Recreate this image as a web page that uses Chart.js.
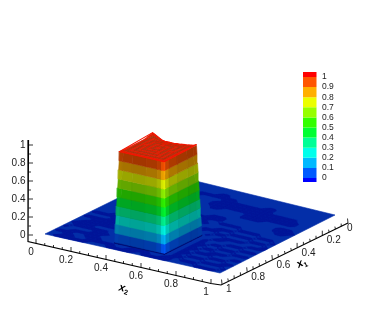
<!DOCTYPE html>
<html>
<head>
<meta charset="utf-8">
<style>
html,body{margin:0;padding:0;background:#fff;}
canvas{display:block;filter:blur(0.45px);}
</style>
<script src="https://cdn.jsdelivr.net/npm/chart.js@4"></script>
</head>
<body>
<canvas id="chart" width="378" height="336"></canvas>
<script>
// values
const x1Ticks = [0, 0.2, 0.4, 0.6, 0.8, 1];
const x2Ticks = [0, 0.2, 0.4, 0.6, 0.8, 1];
const zTicks = [0, 0.2, 0.4, 0.6, 0.8, 1];
const legendLabels = ['0','0.1','0.2','0.3','0.4','0.5','0.6','0.7','0.8','0.9','1'];
const contourLevels = [-0.012, 0, 0.1, 0.2, 0.3, 0.4, 0.5, 0.6, 0.7, 0.8, 0.9, 1];

// extents of the plateau, at its foot and at its top
const footX2 = [0.34, 0.625];
const footX1 = [0.595, 0.915];
const topX2 = [0.355, 0.61];
const topX1 = [0.62, 0.895];
// height offset of the back edge of the plateau, along x2
const backEdgeZ = [0.03,0.015,0,-0.015,-0.03,-0.035,-0.035,-0.035,-0.035,-0.035,-0.03,-0.03,-0.025,-0.02,-0.02,-0.015,-0.01,-0.005,0.01];

// floor values, rows run along x1, columns along x2 ('#' slightly below zero)
const floorRows = [
'..............................',
'..............................',
'...........##.................',
'........#######.....##........',
'......###....#########........',
'....###.....###############...',
'...##.......################..',
'.............##....#########..',
'..##...............####.......',
'..###.....................###.',
'....##.........###........####',
'......###....#####.........##.',
'...#####....####..####........',
'..##.....###...##.....####....',
'.....#####....#....###....###.',
'..####.....##....###..####...#',
'........###.....##..##....###.',
'...####........##..#..####...#',
'#####................##....###',
'....#######.........#...###...',
'########............#.##...###',
'..#####.............##..###...',
'.#######............#.##...###',
'####................##..###...',
'.######.............#.###...##',
'#....###............##...###..',
'..#####.............#.###...##',
'###..###............##...####.',
'..##..#####..####..##.###....#',
'.######...#####.#####....####.'
];
// plateau top values, '#' slightly below one
const topRows = [
'..................',
'.################.',
'.#..............#.',
'.#.####..######.#.',
'.#.#..........#.#.',
'.#.#.###.####.#.#.',
'.#.#.#......#.#.#.',
'.#.#.#.####.#.#.#.',
'.#...#.#..#.#.#.#.',
'.#.#.#.#..#.#...#.',
'.#.#.#.####.#.#.#.',
'.#.#.#......#.#.#.',
'.#.#.######.#.#.#.',
'.#.#..........#.#.',
'.#.##########.#.#.',
'.#..............#.',
'.################.',
'..................'
];

const bandColors = [[0,0,255],[0,90,255],[0,185,255],[0,255,235],[0,255,150],[0,255,50],[50,255,0],[150,255,0],[235,255,0],[255,175,0],[255,85,0],[255,0,0]];
const floorColor = 'rgb(3,46,168)';
const floorDark = 'rgb(0,20,152)';
const topColor = 'rgb(224,28,0)';
const topDark = 'rgb(172,45,10)';

// shading across each side of the plateau
const leftStops = [0,0.08,0.3,0.6,0.85,0.94,1];
const leftShade = [0.68,0.65,0.64,0.66,0.72,0.9];
const rightStops = [0,0.05,0.15,0.4,0.7,0.9,1];
const rightShade = [0.97,0.78,0.68,0.64,0.62,0.64];

// view: where the floor corners land and how tall one unit of z is
const cornerBack = [167,174], cornerRight = [335,215], cornerLeft = [45,234], cornerNear = [220,273];
const zUnit = 90;

function project(x1, x2, z){
  const a = (1-x2)*(1-x1), b = x2*(1-x1), c = (1-x2)*x1, d = x2*x1;
  return {
    x: a*cornerBack[0]+b*cornerRight[0]+c*cornerLeft[0]+d*cornerNear[0],
    y: a*cornerBack[1]+b*cornerRight[1]+c*cornerLeft[1]+d*cornerNear[1]-z*zUnit
  };
}
function lerp(p, q, t){ return p+(q-p)*t; }
function shade(rgb, f){ return 'rgb('+rgb.map(v=>Math.round(Math.min(255,v*f))).join(',')+')'; }
function poly(points, color, edge){
  return {type:'line', data:points.concat([points[0]]), fill:'shape', backgroundColor:color,
    borderColor:color, borderWidth:edge===undefined?0.6:edge, pointRadius:0, tension:0};
}
function stroke(points, color, width){
  return {type:'line', data:points, fill:false, borderColor:color, borderWidth:width, pointRadius:0, tension:0};
}

const shapes = [];

// floor: light sheet first, then the darker patches with their stair steps cut off
const floorN = floorRows.length, floorM = floorRows[0].length;
function isDark(r, c){
  if(r<0 || r>=floorN || c<0 || c>=floorM) return false;
  return floorRows[r][c]==='#';
}
function floorPoint(r, c){ return project(r/floorN, c/floorM, 0); }
shapes.push(poly([floorPoint(0,0),floorPoint(0,floorM),floorPoint(floorN,floorM),floorPoint(floorN,0)], floorColor));
for(let r=0;r<floorN;r++){
  for(let c=0;c<floorM;c++){
    const up = isDark(r-1,c), down = isDark(r+1,c), left = isDark(r,c-1), right = isDark(r,c+1);
    if(isDark(r,c)){
      const pts = [];
      if(!up && !left) pts.push(floorPoint(r+0.5,c),floorPoint(r,c+0.5)); else pts.push(floorPoint(r,c));
      if(!up && !right) pts.push(floorPoint(r,c+0.5),floorPoint(r+0.5,c+1)); else pts.push(floorPoint(r,c+1));
      if(!down && !right) pts.push(floorPoint(r+0.5,c+1),floorPoint(r+1,c+0.5)); else pts.push(floorPoint(r+1,c+1));
      if(!down && !left) pts.push(floorPoint(r+1,c+0.5),floorPoint(r+0.5,c)); else pts.push(floorPoint(r+1,c));
      shapes.push(poly(pts, floorDark, 0.2));
    } else {
      if(up && left) shapes.push(poly([floorPoint(r,c),floorPoint(r,c+0.5),floorPoint(r+0.5,c)], floorDark, 0));
      if(up && right) shapes.push(poly([floorPoint(r,c+1),floorPoint(r+0.5,c+1),floorPoint(r,c+0.5)], floorDark, 0));
      if(down && right) shapes.push(poly([floorPoint(r+1,c+1),floorPoint(r+1,c+0.5),floorPoint(r+0.5,c+1)], floorDark, 0));
      if(down && left) shapes.push(poly([floorPoint(r+1,c),floorPoint(r+0.5,c),floorPoint(r+1,c+0.5)], floorDark, 0));
    }
  }
}

// sides of the plateau, one slab per contour band
function sidePoint(z, t, front){
  const k = Math.max(0,z);
  const x2Lo = lerp(footX2[0],topX2[0],k), x2Hi = lerp(footX2[1],topX2[1],k);
  const x1Lo = lerp(footX1[0],topX1[0],k), x1Hi = lerp(footX1[1],topX1[1],k);
  if(front==='left') return project(x1Hi, lerp(x2Lo,x2Hi,t), z);
  return project(lerp(x1Hi,x1Lo,t), x2Hi, z);
}
function addSide(front, stops, shades){
  for(let i=0;i<contourLevels.length-1;i++){
    const z0 = contourLevels[i], z1 = contourLevels[i+1];
    for(let s=0;s<shades.length;s++){
      const col = i===0 ? 'rgb(0,10,110)' : shade(bandColors[i],shades[s]);
      shapes.push(poly([sidePoint(z0,stops[s],front),sidePoint(z0,stops[s+1],front),sidePoint(z1,stops[s+1],front),sidePoint(z1,stops[s],front)], col));
    }
  }
}
addSide('left', leftStops, leftShade);
addSide('right', rightStops, rightShade);

// top of the plateau
function topPoint(r, c){
  const n = topRows.length, m = topRows[0].length;
  const fade = Math.max(0, 1-r/5);
  return project(lerp(topX1[0],topX1[1],r/n), lerp(topX2[0],topX2[1],c/m), 1+backEdgeZ[c]*fade);
}
topRows.forEach((row,r)=>{
  for(let c=0;c<row.length;c++){
    shapes.push(poly([topPoint(r,c),topPoint(r,c+1),topPoint(r+1,c+1),topPoint(r+1,c)], row[c]==='#'?topDark:topColor));
  }
});
const topRim = [];
for(let c=0;c<=topRows[0].length;c++) topRim.push(topPoint(0,c));
topRim.push(topPoint(topRows.length,topRows[0].length), topPoint(topRows.length,0), topPoint(0,0));
shapes.push(stroke(topRim,'rgb(245,20,0)',1.1));

// axes
const axisColor = '#000';
const x2Start = [36,243.5], x2End = [211,283.5];
const x1Start = [348,223], x1End = [222,284];
const zBase = 235, zLeft = 28.5;
function x2AxisPoint(v){ return {x:lerp(x2Start[0],x2End[0],v), y:lerp(x2Start[1],x2End[1],v)}; }
function x1AxisPoint(v){ return {x:lerp(x1Start[0],x1End[0],v), y:lerp(x1Start[1],x1End[1],v)}; }
function zAxisPoint(v){ return {x:zLeft, y:zBase-v*zUnit}; }

shapes.push(stroke([{x:zLeft,y:140},{x:28,y:241.5},x2AxisPoint(1),{x:221,y:285},x1AxisPoint(0)],axisColor,1.2));
for(let i=0;i<=20;i++){
  const major = i%4===0, v = i/20;
  const len = major?4.5:2.5;
  const p = x2AxisPoint(v), q = x1AxisPoint(v);
  shapes.push(stroke([p,{x:p.x,y:p.y-len}],axisColor,0.8));
  shapes.push(stroke([q,{x:q.x-0.5,y:q.y-len}],axisColor,0.8));
}
for(let i=0;i<=10;i++){
  const p = zAxisPoint(i/10);
  shapes.push(stroke([p,{x:p.x+(i%2===0?4.5:2.5),y:p.y}],axisColor,0.8));
}

// colour key beside the surface
const keyLeft = 303, keyRight = 316.5;
function keyY(v){ return 178-v*101; }
const keyEdges = [-0.04,0,0.1,0.2,0.3,0.4,0.5,0.6,0.7,0.8,0.9,1,1.05];
bandColors.forEach((col,i)=>{
  const y0 = keyY(keyEdges[i]), y1 = keyY(keyEdges[i+1]);
  shapes.push(poly([{x:keyLeft,y:y0},{x:keyRight,y:y0},{x:keyRight,y:y1},{x:keyLeft,y:y1}], shade(col,1), 0));
});

const textFont = '"Liberation Sans", Arial, sans-serif';
const axisText = {
  id:'axisText',
  afterDraw(chart){
    const ctx = chart.ctx, sx = chart.scales.x, sy = chart.scales.y;
    ctx.save();
    ctx.fillStyle = '#222';
    ctx.textBaseline = 'middle';
    ctx.font = '10px '+textFont;
    ctx.textAlign = 'center';
    x2Ticks.forEach(v=>{
      const p = x2AxisPoint(v);
      ctx.fillText(String(v), sx.getPixelForValue(p.x)-5, sy.getPixelForValue(p.y)+8.5);
    });
    ctx.textAlign = 'left';
    x1Ticks.forEach(v=>{
      const p = x1AxisPoint(v);
      const nudge = v===0 ? -1 : 4;
      ctx.fillText(String(v), sx.getPixelForValue(p.x)+nudge, sy.getPixelForValue(p.y)+5.5);
    });
    ctx.textAlign = 'right';
    zTicks.forEach(v=>{
      const p = zAxisPoint(v);
      ctx.fillText(String(v), sx.getPixelForValue(p.x)-3, sy.getPixelForValue(p.y));
    });
    ctx.font = '8.5px '+textFont;
    ctx.textAlign = 'left';
    legendLabels.forEach((t,i)=>{
      ctx.fillText(t, 322, sy.getPixelForValue(keyY(i/10)));
    });
    // axis titles
    function title(x, y, angle, sub){
      ctx.save();
      ctx.translate(x,y);
      ctx.rotate(angle);
      ctx.fillStyle = '#000';
      ctx.font = 'italic bold 11px '+textFont;
      ctx.textAlign = 'left';
      ctx.fillText('x',-3,0);
      ctx.font = 'bold 7px '+textFont;
      ctx.fillText(sub,3,3.5);
      ctx.restore();
    }
    title(122,288,0.25,'2');
    title(300,264,-0.45,'1');
    ctx.restore();
  }
};

new Chart(document.getElementById('chart'), {
  type:'line',
  data:{datasets:shapes.reverse()},
  plugins:[axisText],
  options:{
    responsive:false,
    animation:false,
    parsing:false,
    normalized:false,
    layout:{padding:0},
    plugins:{legend:{display:false},tooltip:{enabled:false},title:{display:false}},
    scales:{
      x:{type:'linear',min:0,max:378,display:false},
      y:{type:'linear',min:0,max:336,reverse:true,display:false}
    }
  }
});
</script>
</body>
</html>
